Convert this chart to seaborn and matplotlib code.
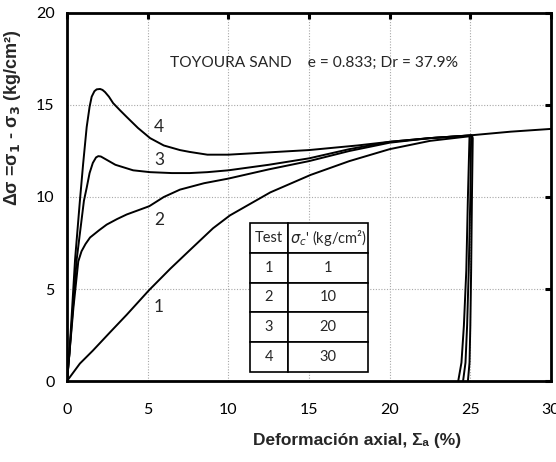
import matplotlib
matplotlib.use("Agg")
import matplotlib.pyplot as plt
import numpy as np
import pandas as pd
import seaborn as sns

# Triaxial test curves: axial strain (%) vs deviator stress (kg/cm2)
strain_1 = [0, 0.8, 1.6, 2.67, 3.7, 5.1, 6.4, 7.6, 9.05, 10.1, 12.6, 15.1, 17.5, 20.0, 22.5, 24.95,
            24.85, 24.75, 24.6, 24.45, 24.25]
stress_1 = [0, 0.95, 1.65, 2.65, 3.6, 4.95, 6.1, 7.1, 8.3, 9.0, 10.25, 11.2, 11.95, 12.6, 13.05, 13.3,
            10.0, 6.0, 3.0, 1.0, 0]

strain_2 = [0, 0.15, 0.4, 0.7, 0.9, 1.15, 1.43, 2.0, 2.46, 3.1, 3.7, 5.1, 6.0, 7.0, 8.5, 10.0, 12.5,
            15.0, 17.5, 20.0, 22.5, 25.05, 25.0, 24.9, 24.8, 24.7, 24.55]
stress_2 = [0, 1.5, 4.0, 6.5, 7.05, 7.45, 7.8, 8.2, 8.5, 8.8, 9.05, 9.5, 10.0, 10.4, 10.75, 11.0, 11.5,
            11.95, 12.5, 12.95, 13.2, 13.35, 10.0, 6.0, 3.0, 1.0, 0]

strain_3 = [0, 0.15, 0.6, 1.05, 1.22, 1.4, 1.6, 1.8, 1.94, 2.1, 2.4, 3.0, 4.1, 5.15, 6.5, 7.6, 8.7,
            10.0, 12.5, 15.0, 17.5, 20.0, 22.5, 25.1, 25.15, 25.1, 25.05, 25.0, 24.95, 24.85]
stress_3 = [0, 1.5, 6.6, 9.8, 10.5, 11.3, 11.85, 12.15, 12.22, 12.2, 12.05, 11.75, 11.45, 11.35, 11.3,
            11.3, 11.35, 11.45, 11.75, 12.1, 12.6, 13.0, 13.2, 13.35, 13.2, 10.0, 6.0, 3.0, 1.0, 0]

strain_4 = [0, 0.15, 0.5, 0.8, 1.0, 1.22, 1.4, 1.53, 1.7, 1.84, 2.05, 2.2, 2.36, 2.6, 2.86, 3.3, 3.7,
            4.4, 5.15, 6.0, 7.0, 7.6, 8.7, 10.0, 12.0, 15.0, 18.0, 20.0, 22.5, 25.0, 27.5, 30.0]
stress_4 = [0, 1.5, 6.6, 9.8, 11.8, 13.8, 14.9, 15.45, 15.75, 15.85, 15.87, 15.82, 15.7, 15.45, 15.1,
            14.7, 14.35, 13.75, 13.2, 12.8, 12.55, 12.45, 12.3, 12.3, 12.4, 12.55, 12.8, 13.0, 13.2,
            13.35, 13.55, 13.7]

tests = ["1", "2", "3", "4"]
confining = ["1", "10", "20", "30"]
label_x = [5.7, 5.7, 5.7, 5.7]
label_y = [4.0, 8.75, 12.0, 13.8]

curves = pd.concat([
    pd.DataFrame({"test": t, "order": np.arange(len(x)), "strain": x, "stress": y})
    for t, x, y in zip(tests, [strain_1, strain_2, strain_3, strain_4],
                       [stress_1, stress_2, stress_3, stress_4])
], ignore_index=True)

sns.set_style("white")
body = ["Lato", "DejaVu Sans"]
heavy = ["Liberation Sans", "DejaVu Sans"]
plt.rcParams["font.family"] = body
plt.rcParams["mathtext.fontset"] = "dejavusans"

fig = plt.figure(figsize=(5.56, 4.62), dpi=100)
ax = fig.add_axes([0.1205, 0.1753, 0.8705, 0.7966])

sns.lineplot(data=curves, x="strain", y="stress", units="test", estimator=None,
             sort=False, color="black", linewidth=1.4, ax=ax,
             solid_joinstyle="round", solid_capstyle="round")

ax.set_xlim(0, 30)
ax.set_ylim(0, 20)
ax.set_xticks([0, 5, 10, 15, 20, 25, 30])
ax.set_yticks([0, 5, 10, 15, 20])
ax.grid(True, linestyle=(0, (1, 1.5)), color="#a8a8a8", linewidth=0.8)
for side in ax.spines.values():
    side.set_linewidth(2.0)
    side.set_color("black")
ax.tick_params(direction="in", top=True, right=True, length=4, width=2.2,
               labelsize=11.5, colors="black")
ax.tick_params(axis="x", pad=16)
ax.tick_params(axis="y", pad=9)

ax.set_xlabel("Deformación axial, Σₐ (%)", fontsize=12.5, fontweight="bold", family=heavy)
ax.xaxis.set_label_coords(0.60, -0.14)
ax.set_ylabel(r"Δσ =σ$_\mathbf{1}$ - σ$_\mathbf{3}$ (kg/cm²)", fontsize=13, fontweight="bold",
              family=heavy)
ax.yaxis.set_label_coords(-0.09, 0.715)

ax.text(6.4, 17.3, "TOYOURA SAND    e = 0.833; Dr = 37.9%", fontsize=11.2,
        ha="left", va="center")

for t, lx, ly in zip(tests, label_x, label_y):
    ax.text(lx, ly, t, fontsize=12.5, ha="center", va="center")

table = ax.table(cellText=[[t, c] for t, c in zip(tests, confining)],
                 colLabels=["Test", r"$\sigma_c$' (kg/cm²)"],
                 cellLoc="center", colWidths=[0.32, 0.68],
                 bbox=[0.378, 0.0245, 0.244, 0.405])
table.auto_set_font_size(False)
table.set_fontsize(10.5)
for cell in table.get_celld().values():
    cell.set_edgecolor("black")
    cell.set_linewidth(1.2)
    cell.set_facecolor("white")
table.set_zorder(5)

fig.savefig("out.png", dpi=100)
